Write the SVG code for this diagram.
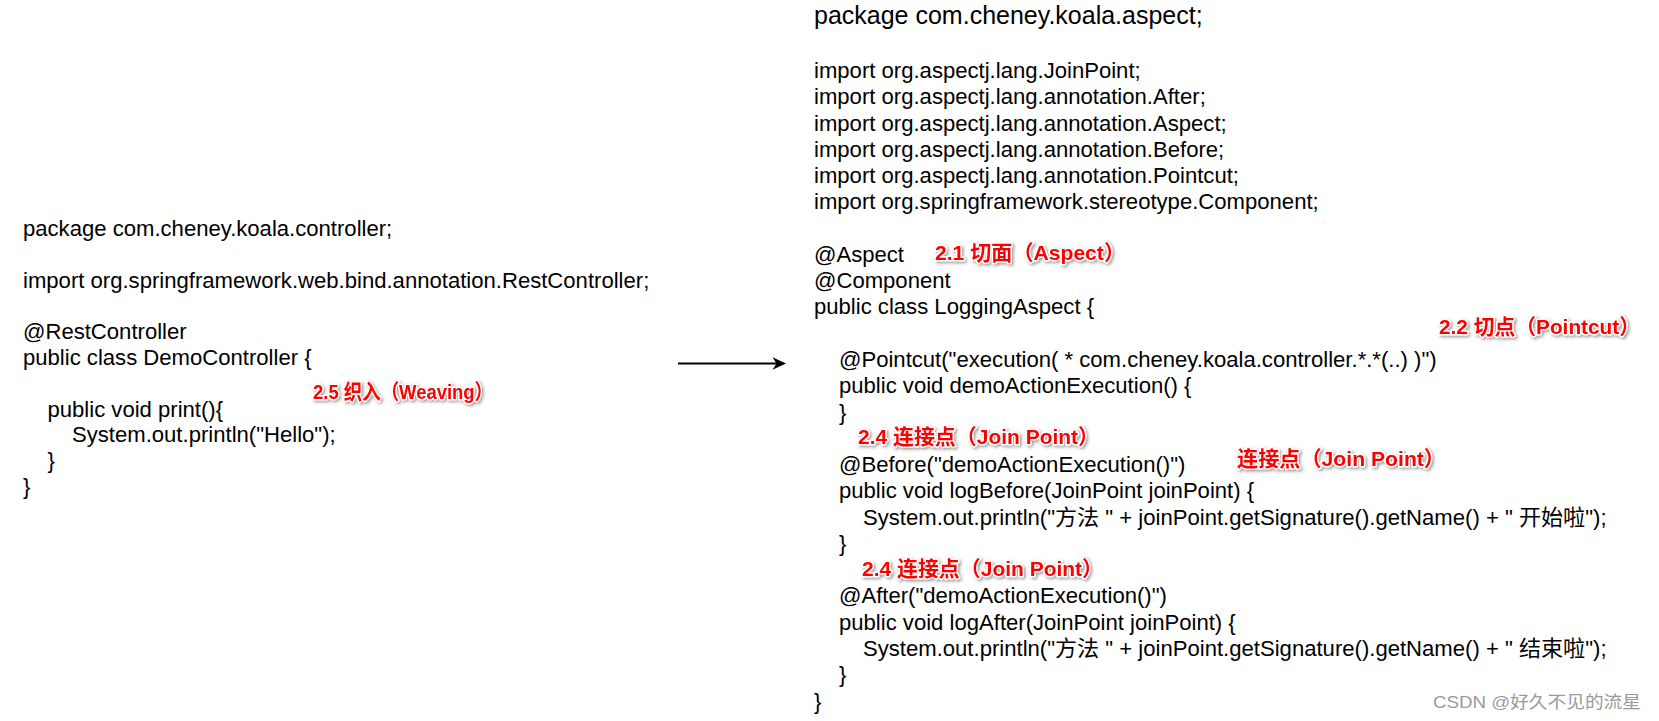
<svg xmlns="http://www.w3.org/2000/svg" width="1659" height="721" viewBox="0 0 1659 721">
<style>
.code{font-family:"Liberation Sans","Noto Sans CJK SC",sans-serif;font-size:22.1px;fill:#000;}
.pkg{font-size:25px;}
.lbl{font-family:"Liberation Sans","Noto Sans CJK SC",sans-serif;font-weight:bold;font-size:21px;fill:#ff0000;stroke:#ffffff;stroke-width:3px;stroke-linejoin:round;paint-order:stroke;filter:url(#sh);}
.wm{font-family:"Liberation Sans","Noto Sans CJK SC",sans-serif;font-size:17px;fill:#9a9a9a;}
</style>
<defs>
<filter id="sh" x="-10%" y="-40%" width="120%" height="180%">
<feDropShadow dx="1.5" dy="1.5" stdDeviation="1.5" flood-color="#555" flood-opacity="0.6"/>
</filter>
</defs>
<rect width="1659" height="721" fill="#ffffff"/>
<g id="controller-code" class="code">
<text x="23" y="236">package com.cheney.koala.controller;</text>
<text x="23" y="288">import org.springframework.web.bind.annotation.RestController;</text>
<text x="23" y="339">@RestController</text>
<text x="23" y="365">public class DemoController {</text>
<text x="47.5" y="417">public void print(){</text>
<text x="72" y="442">System.out.println("Hello");</text>
<text x="47.5" y="468">}</text>
<text x="23" y="494">}</text>
</g>
<g id="aspect-code" class="code">
<text class="code pkg" x="814" y="24">package com.cheney.koala.aspect;</text>
<text x="814" y="78">import org.aspectj.lang.JoinPoint;</text>
<text x="814" y="104.3">import org.aspectj.lang.annotation.After;</text>
<text x="814" y="130.5">import org.aspectj.lang.annotation.Aspect;</text>
<text x="814" y="156.8">import org.aspectj.lang.annotation.Before;</text>
<text x="814" y="183.1">import org.aspectj.lang.annotation.Pointcut;</text>
<text x="814" y="209.4">import org.springframework.stereotype.Component;</text>
<text x="814" y="262">@Aspect</text>
<text x="814" y="288.2">@Component</text>
<text x="814" y="314.4">public class LoggingAspect {</text>
<text x="839" y="367">@Pointcut("execution( * com.cheney.koala.controller.*.*(..) )")</text>
<text x="839" y="393.2">public void demoActionExecution() {</text>
<text x="839" y="419.5">}</text>
<text x="839" y="472">@Before("demoActionExecution()")</text>
<text x="839" y="498.3">public void logBefore(JoinPoint joinPoint) {</text>
<text x="863" y="524.6">System.out.println("方法 " + joinPoint.getSignature().getName() + " 开始啦");</text>
<text x="839" y="550.9">}</text>
<text x="839" y="603.4">@After("demoActionExecution()")</text>
<text x="839" y="629.7">public void logAfter(JoinPoint joinPoint) {</text>
<text x="863" y="656">System.out.println("方法 " + joinPoint.getSignature().getName() + " 结束啦");</text>
<text x="839" y="682.2">}</text>
<text x="814" y="708.5">}</text>
</g>
<g id="labels">
<text id="lbl-weaving" class="lbl" x="313" y="399" textLength="180" lengthAdjust="spacingAndGlyphs">2.5 织入（Weaving）</text>
<text id="lbl-aspect" class="lbl" x="935" y="260" textLength="190" lengthAdjust="spacingAndGlyphs">2.1 切面（Aspect）</text>
<text id="lbl-pointcut" class="lbl" x="1439" y="334" textLength="201" lengthAdjust="spacingAndGlyphs">2.2 切点（Pointcut）</text>
<text id="lbl-join1" class="lbl" x="858" y="444" textLength="241" lengthAdjust="spacingAndGlyphs">2.4 连接点（Join Point）</text>
<text id="lbl-join" class="lbl" x="1237" y="466" textLength="208" lengthAdjust="spacingAndGlyphs">连接点（Join Point）</text>
<text id="lbl-join2" class="lbl" x="862" y="576" textLength="241" lengthAdjust="spacingAndGlyphs">2.4 连接点（Join Point）</text>
</g>
<g id="connectors">
<line x1="678" y1="363.5" x2="777" y2="363.5" stroke="#000" stroke-width="2"/>
<polygon points="786,363.5 772.5,357.2 776.5,363.5 772.5,369.8" fill="#000"/>
</g>
<text class="wm" x="1433" y="708" textLength="208" lengthAdjust="spacingAndGlyphs">CSDN @好久不见的流星</text>
</svg>
